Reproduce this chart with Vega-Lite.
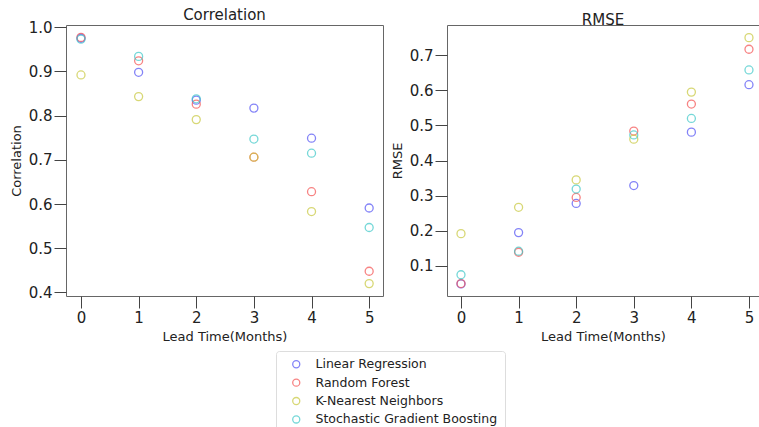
{
  "$schema": "https://vega.github.io/schema/vega-lite/v6.json",
  "padding": {"left": 9, "top": 7, "right": 0, "bottom": 0},
  "data": {"values": [
    {"model": "Linear Regression", "t": 0, "corr": 0.975, "rmse": 0.049},
    {"model": "Linear Regression", "t": 1, "corr": 0.898, "rmse": 0.195},
    {"model": "Linear Regression", "t": 2, "corr": 0.835, "rmse": 0.278},
    {"model": "Linear Regression", "t": 3, "corr": 0.817, "rmse": 0.329},
    {"model": "Linear Regression", "t": 4, "corr": 0.749, "rmse": 0.481},
    {"model": "Linear Regression", "t": 5, "corr": 0.591, "rmse": 0.616},
    {"model": "Random Forest", "t": 0, "corr": 0.977, "rmse": 0.050},
    {"model": "Random Forest", "t": 1, "corr": 0.924, "rmse": 0.139},
    {"model": "Random Forest", "t": 2, "corr": 0.826, "rmse": 0.295},
    {"model": "Random Forest", "t": 3, "corr": 0.706, "rmse": 0.484},
    {"model": "Random Forest", "t": 4, "corr": 0.628, "rmse": 0.561},
    {"model": "Random Forest", "t": 5, "corr": 0.448, "rmse": 0.717},
    {"model": "K-Nearest Neighbors", "t": 0, "corr": 0.892, "rmse": 0.192},
    {"model": "K-Nearest Neighbors", "t": 1, "corr": 0.843, "rmse": 0.267},
    {"model": "K-Nearest Neighbors", "t": 2, "corr": 0.791, "rmse": 0.345},
    {"model": "K-Nearest Neighbors", "t": 3, "corr": 0.706, "rmse": 0.461},
    {"model": "K-Nearest Neighbors", "t": 4, "corr": 0.583, "rmse": 0.595},
    {"model": "K-Nearest Neighbors", "t": 5, "corr": 0.420, "rmse": 0.750},
    {"model": "Stochastic Gradient Boosting", "t": 0, "corr": 0.973, "rmse": 0.075},
    {"model": "Stochastic Gradient Boosting", "t": 1, "corr": 0.934, "rmse": 0.142},
    {"model": "Stochastic Gradient Boosting", "t": 2, "corr": 0.838, "rmse": 0.319},
    {"model": "Stochastic Gradient Boosting", "t": 3, "corr": 0.747, "rmse": 0.473},
    {"model": "Stochastic Gradient Boosting", "t": 4, "corr": 0.715, "rmse": 0.520},
    {"model": "Stochastic Gradient Boosting", "t": 5, "corr": 0.547, "rmse": 0.658}
  ]},
  "bounds": "flush",
  "spacing": 64,
  "hconcat": [
    {
      "width": 317,
      "height": 271,
      "title": {"text": "Correlation", "frame": "group", "offset": 2, "dy": 5},
      "mark": {"type": "point", "shape": "circle", "filled": false, "size": 64, "strokeWidth": 1.3},
      "encoding": {
        "x": {"field": "t", "type": "quantitative", "scale": {"domain": [-0.26, 5.24], "nice": false, "zero": false},
              "axis": {"values": [0, 1, 2, 3, 4, 5], "format": "d", "title": "Lead Time(Months)"}},
        "y": {"field": "corr", "type": "quantitative", "scale": {"domain": [0.392, 1.005], "nice": false, "zero": false},
              "axis": {"values": [0.4, 0.5, 0.6, 0.7, 0.8, 0.9, 1.0], "format": ".1f", "title": "Correlation"}},
        "color": {"field": "model", "type": "nominal",
                  "scale": {"domain": ["Linear Regression", "Random Forest", "K-Nearest Neighbors", "Stochastic Gradient Boosting"],
                            "range": ["#5050f5", "#f55050", "#c8c83c", "#3cc8c8"]}}
      }
    },
    {
      "width": 312,
      "height": 271,
      "title": {"text": "RMSE", "frame": "group", "offset": 2, "dy": 5},
      "mark": {"type": "point", "shape": "circle", "filled": false, "size": 64, "strokeWidth": 1.3},
      "encoding": {
        "x": {"field": "t", "type": "quantitative", "scale": {"domain": [-0.243, 5.174], "nice": false, "zero": false},
              "axis": {"values": [0, 1, 2, 3, 4, 5], "format": "d", "title": "Lead Time(Months)"}},
        "y": {"field": "rmse", "type": "quantitative", "scale": {"domain": [0.0145, 0.786], "nice": false, "zero": false},
              "axis": {"values": [0.1, 0.2, 0.3, 0.4, 0.5, 0.6, 0.7], "format": ".1f", "title": "RMSE"}},
        "color": {"field": "model", "type": "nominal"}
      }
    }
  ],
  "resolve": {"scale": {"color": "shared"}},
  "config": {
    "font": "DejaVu Sans",
    "view": {"stroke": "#666666", "strokeWidth": 1},
    "title": {"fontSize": 15, "fontWeight": "normal", "color": "#222222", "font": "DejaVu Sans"},
    "axis": {
      "domain": false, "grid": false, "ticks": true, "tickSize": 12, "tickColor": "#444444", "tickWidth": 1,
      "labelFontSize": 15, "labelColor": "#222222", "labelPadding": 2, "labelFont": "DejaVu Sans",
      "titleFontSize": 13, "titleFontWeight": "normal", "titleColor": "#222222", "titleFont": "DejaVu Sans", "titlePadding": 5
    },
    "axisY": {"titlePadding": 5},
    "legend": {
      "orient": "none", "legendX": 210, "legendY": 326, "title": null,
      "strokeColor": "#dddddd", "fillColor": "white", "cornerRadius": 3, "padding": 7,
      "symbolType": "circle", "symbolFillColor": "transparent", "symbolStrokeWidth": 1.3, "symbolSize": 50,
      "symbolOffset": 7, "labelOffset": 13, "rowPadding": 5.4,
      "labelFontSize": 12.5, "labelColor": "#222222", "labelFont": "DejaVu Sans", "labelLimit": 300
    }
  }
}
